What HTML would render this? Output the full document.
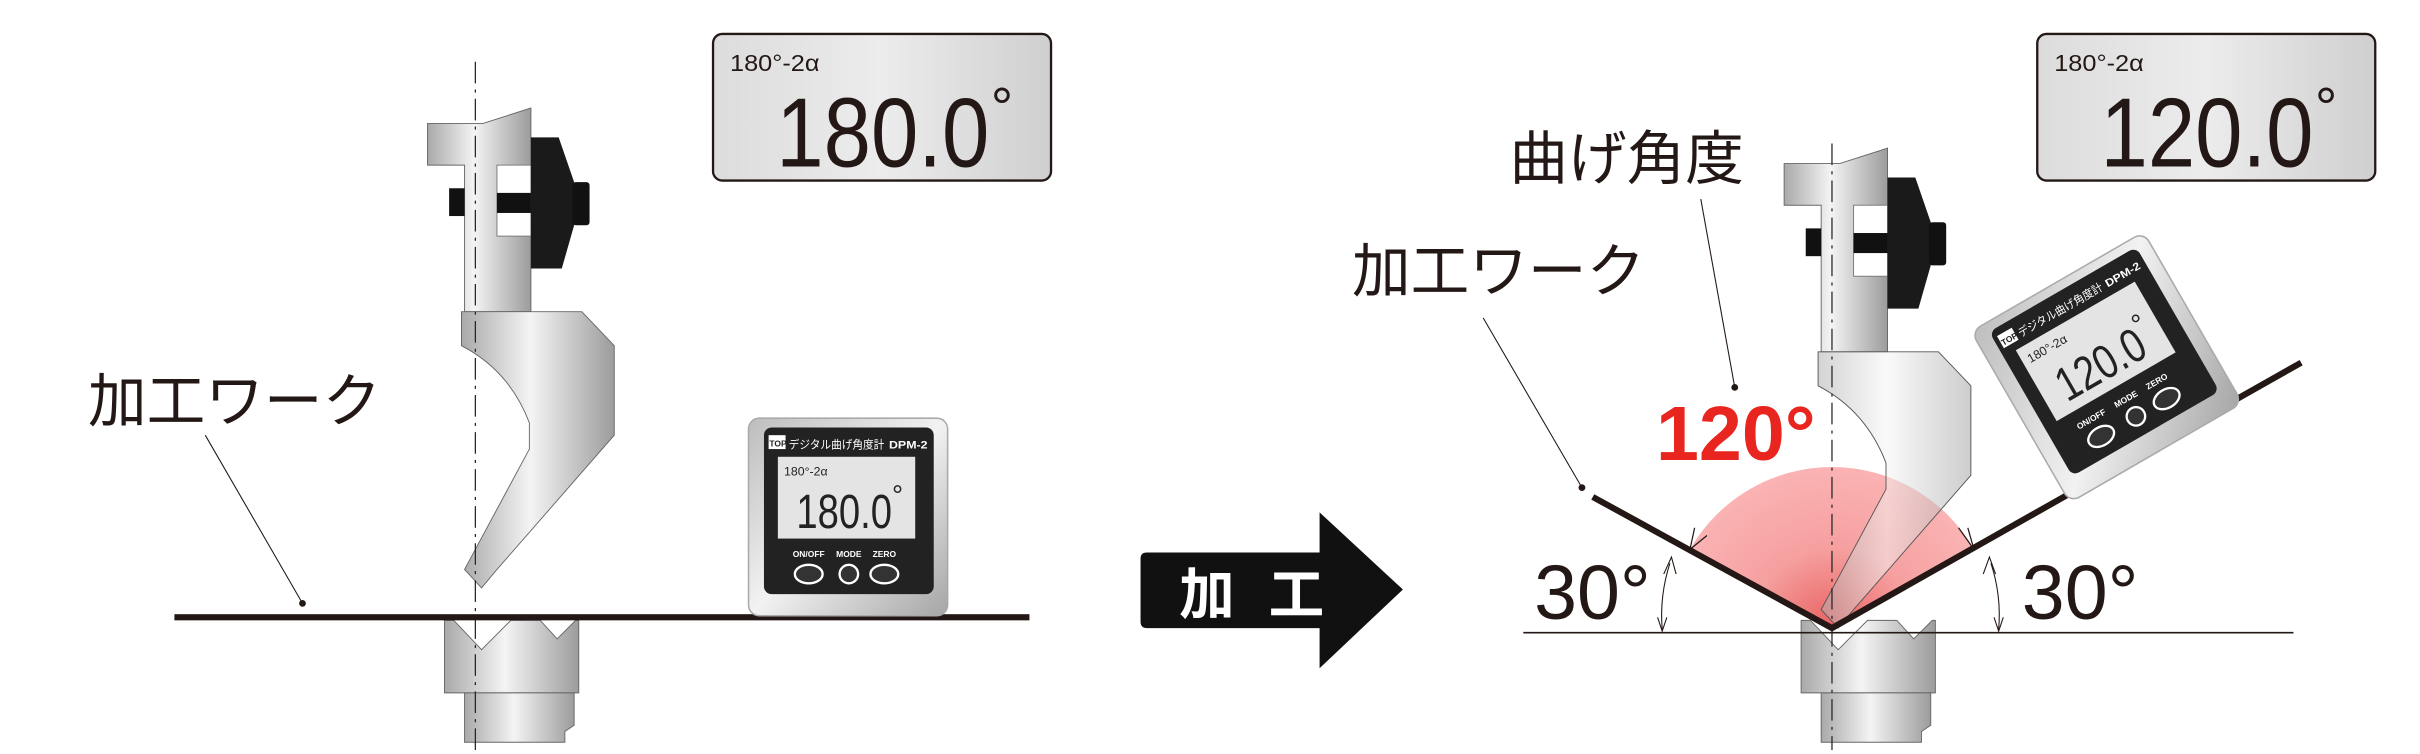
<!DOCTYPE html>
<html><head><meta charset="utf-8"><style>
html,body{margin:0;padding:0;background:#fff;}
svg{display:block;}
text{font-family:"Liberation Sans","Noto Sans CJK JP",sans-serif;}
</style></head><body>
<svg width="2420" height="754" viewBox="0 0 1568 488.6" preserveAspectRatio="none" xmlns="http://www.w3.org/2000/svg">
<defs>
<linearGradient id="metal" x1="0" y1="0" x2="1" y2="0">
<stop offset="0" stop-color="#a9a9a9"/><stop offset="0.45" stop-color="#f4f4f4"/><stop offset="1" stop-color="#9c9c9c"/>
</linearGradient>
<linearGradient id="metal2" x1="0" y1="0" x2="1" y2="1">
<stop offset="0" stop-color="#bdbdbd"/><stop offset="0.5" stop-color="#f2f2f2"/><stop offset="1" stop-color="#a5a5a5"/>
</linearGradient>
<linearGradient id="lcd" x1="0" y1="0" x2="1" y2="0">
<stop offset="0" stop-color="#dcdcdc"/><stop offset="0.5" stop-color="#ececec"/><stop offset="1" stop-color="#cfcfcf"/>
</linearGradient>
<radialGradient id="pink" cx="1187" cy="408" r="106" gradientUnits="userSpaceOnUse">
<stop offset="0" stop-color="#e8605f"/><stop offset="0.5" stop-color="#f6a0a0"/><stop offset="1" stop-color="#fbb3b3"/>
</radialGradient>
<g id="punch">
<path d="M277,80 L313,80 L344,70 L344,202 L301,202 L301,107 L277,107 Z" fill="url(#metal)" stroke="#666" stroke-width="0.6"/>
<rect x="322" y="107" width="22" height="46" fill="#fff" stroke="#777" stroke-width="0.6"/>
<rect x="291" y="122" width="10" height="18" fill="#111"/>
<rect x="322" y="125" width="22" height="13" fill="#111"/>
<path d="M344,89 L362,89 L372,118 L372,146 L364,174 L344,174 Z" fill="#1a1a1a"/>
<rect x="371" y="118" width="11" height="28" rx="2" fill="#111"/>
</g>
<g id="die">
<path d="M288,402 L294,402 L312,421 L331,402 L350,402 L361,414 L373,402 L375,402 L375,449 L288,449 Z" fill="url(#metal)" stroke="#666" stroke-width="0.6"/>
<path d="M301,449 L372,449 L372,470 L366,474 L366,481 L301,481 Z" fill="url(#metal)" stroke="#666" stroke-width="0.6"/>
</g>
</defs>

<!-- LEFT PANEL -->
<use href="#punch"/>
<path d="M299,202 L377,202 L398,224 L398,282 L322,369 L312,381 L301,369 L343,291 L343,274 Q330,240 299,224 Z" fill="url(#metal)" stroke="#666" stroke-width="0.6"/>
<use href="#die"/>
<line x1="308" y1="40" x2="308" y2="489" stroke="#222" stroke-width="0.8" stroke-dasharray="14,4,2,4"/>
<rect x="113" y="398" width="554" height="4" fill="#231815"/>
<text x="57" y="273" font-size="38" fill="#231815">加工ワーク</text>
<line x1="133" y1="282" x2="196" y2="391" stroke="#231815" stroke-width="0.7"/>
<circle cx="196" cy="391" r="2.2" fill="#231815"/>

<!-- top-left LCD -->
<rect x="462" y="22" width="219" height="95" rx="6" fill="url(#lcd)" stroke="#231815" stroke-width="1.5"/>
<text x="473" y="46" font-size="15" fill="#231815" textLength="58" lengthAdjust="spacingAndGlyphs">180°-2α</text>
<text x="503" y="108" font-size="64" fill="#231815" textLength="138" lengthAdjust="spacingAndGlyphs">180.0</text>
<text x="642" y="82" font-size="36" fill="#231815">°</text>

<!-- left device -->
<g transform="translate(485,271)">
<rect x="0" y="0" width="129" height="128" rx="7" fill="url(#metal2)" stroke="#aaa" stroke-width="1"/>
<rect x="10" y="6" width="110" height="108" rx="5" fill="#222"/>
<rect x="13" y="11" width="11" height="9" fill="#fff"/>
<text x="13.5" y="18.5" font-size="5.5" font-weight="bold" fill="#222">TOP</text>
<text x="26" y="19.5" font-size="7.5" fill="#fff" textLength="62" lengthAdjust="spacingAndGlyphs">デジタル曲げ角度計</text>
<text x="91" y="19.5" font-size="7" font-weight="bold" fill="#fff" textLength="25" lengthAdjust="spacingAndGlyphs">DPM-2</text>
<rect x="19" y="25" width="89" height="53" fill="#e4e4e4"/>
<text x="23" y="37" font-size="8" fill="#222">180°-2α</text>
<text x="31" y="71" font-size="31" fill="#222" textLength="62" lengthAdjust="spacingAndGlyphs">180.0</text>
<text x="93" y="56" font-size="18" fill="#222">°</text>
<text x="39" y="90" font-size="5.5" font-weight="bold" fill="#fff" text-anchor="middle">ON/OFF</text>
<text x="65" y="90" font-size="5.5" font-weight="bold" fill="#fff" text-anchor="middle">MODE</text>
<text x="88" y="90" font-size="5.5" font-weight="bold" fill="#fff" text-anchor="middle">ZERO</text>
<ellipse cx="39" cy="101" rx="9" ry="6" fill="#333" stroke="#fff" stroke-width="1.5"/>
<circle cx="65" cy="101" r="6" fill="#333" stroke="#fff" stroke-width="1.5"/>
<ellipse cx="88" cy="101" rx="9" ry="6" fill="#333" stroke="#fff" stroke-width="1.5"/>
</g>

<!-- ARROW -->
<path d="M743,358 L855,358 L855,332 L909,382 L855,433 L855,407 L743,407 Q739,407 739,403 L739,362 Q739,358 743,358 Z" fill="#111"/>
<text x="764" y="398" font-size="36" font-weight="bold" fill="#fff">加</text>
<text x="822" y="398" font-size="36" font-weight="bold" fill="#fff">工</text>

<!-- RIGHT PANEL -->
<g transform="translate(879,26)"><use href="#punch"/></g>
<path d="M1095,356 A106,106 0 0 1 1279,356 L1187,408 Z" fill="url(#pink)"/>
<g transform="translate(879,26)">
<path d="M299,202 L377,202 L398,224 L398,282 L322,369 L312,381 L301,369 L343,291 L343,274 Q330,240 299,224 Z" fill="url(#metal)" fill-opacity="0.5" stroke="#555" stroke-width="0.6"/>
</g>
<g transform="translate(879,0)"><use href="#die"/></g>
<line x1="1187" y1="93" x2="1187" y2="486" stroke="#222" stroke-width="0.8" stroke-dasharray="14,4,2,4"/>
<line x1="987" y1="410" x2="1486" y2="410" stroke="#231815" stroke-width="1"/>
<polyline points="1032,322 1187,407 1491,235" fill="none" stroke="#231815" stroke-width="4"/>
<!-- angle arcs -->
<path d="M1077,408 A110,110 0 0 1 1082,365" fill="none" stroke="#231815" stroke-width="0.7"/>
<path d="M1295,408 A108,108 0 0 0 1290,365" fill="none" stroke="#231815" stroke-width="0.7"/>
<path d="M1074,400 L1077,409 L1080,400" fill="none" stroke="#231815" stroke-width="0.7"/>
<path d="M1078,372 L1083,361 L1086,372" fill="none" stroke="#231815" stroke-width="0.7"/>
<path d="M1292,400 L1295,409 L1298,400" fill="none" stroke="#231815" stroke-width="0.7"/>
<path d="M1285,372 L1289,361 L1293,372" fill="none" stroke="#231815" stroke-width="0.7"/>
<path d="M1098,342 L1095,356 L1106,347" fill="none" stroke="#231815" stroke-width="0.8"/>
<path d="M1269,342 L1279,356 L1275,342" fill="none" stroke="#231815" stroke-width="0.8"/>
<text x="994" y="401" font-size="50" fill="#231815">30°</text>
<text x="1310" y="401" font-size="50" fill="#231815">30°</text>
<text x="1073" y="298" font-size="50" font-weight="bold" fill="#e8251e">120°</text>
<text x="978" y="116" font-size="38" fill="#231815">曲げ角度</text>
<line x1="1102" y1="129" x2="1124" y2="251" stroke="#231815" stroke-width="0.7"/>
<circle cx="1124" cy="251" r="2.2" fill="#231815"/>
<text x="876" y="189" font-size="38" fill="#231815">加工ワーク</text>
<line x1="961" y1="206" x2="1025" y2="316" stroke="#231815" stroke-width="0.7"/>
<circle cx="1025" cy="316" r="2.2" fill="#231815"/>

<!-- top-right LCD -->
<rect x="1320" y="22" width="219" height="95" rx="6" fill="url(#lcd)" stroke="#231815" stroke-width="1.5"/>
<text x="1331" y="46" font-size="15" fill="#231815" textLength="58" lengthAdjust="spacingAndGlyphs">180°-2α</text>
<text x="1361" y="108" font-size="64" fill="#231815" textLength="138" lengthAdjust="spacingAndGlyphs">120.0</text>
<text x="1500" y="82" font-size="36" fill="#231815">°</text>

<!-- tilted device -->
<g transform="translate(1365,238) rotate(-30) translate(-64.5,-64)">
<rect x="0" y="0" width="129" height="128" rx="7" fill="url(#metal2)" stroke="#aaa" stroke-width="1"/>
<rect x="10" y="6" width="110" height="108" rx="5" fill="#222"/>
<rect x="13" y="11" width="11" height="9" fill="#fff"/>
<text x="13.5" y="18.5" font-size="5.5" font-weight="bold" fill="#222">TOP</text>
<text x="26" y="19.5" font-size="7.5" fill="#fff" textLength="62" lengthAdjust="spacingAndGlyphs">デジタル曲げ角度計</text>
<text x="91" y="19.5" font-size="7" font-weight="bold" fill="#fff" textLength="25" lengthAdjust="spacingAndGlyphs">DPM-2</text>
<rect x="19" y="25" width="89" height="53" fill="#e4e4e4"/>
<text x="23" y="37" font-size="8" fill="#222">180°-2α</text>
<text x="31" y="71" font-size="31" fill="#222" textLength="62" lengthAdjust="spacingAndGlyphs">120.0</text>
<text x="93" y="56" font-size="18" fill="#222">°</text>
<text x="39" y="90" font-size="5.5" font-weight="bold" fill="#fff" text-anchor="middle">ON/OFF</text>
<text x="65" y="90" font-size="5.5" font-weight="bold" fill="#fff" text-anchor="middle">MODE</text>
<text x="88" y="90" font-size="5.5" font-weight="bold" fill="#fff" text-anchor="middle">ZERO</text>
<ellipse cx="39" cy="101" rx="9" ry="6" fill="#333" stroke="#fff" stroke-width="1.5"/>
<circle cx="65" cy="101" r="6" fill="#333" stroke="#fff" stroke-width="1.5"/>
<ellipse cx="88" cy="101" rx="9" ry="6" fill="#333" stroke="#fff" stroke-width="1.5"/>
</g>
</svg>
</body></html>
